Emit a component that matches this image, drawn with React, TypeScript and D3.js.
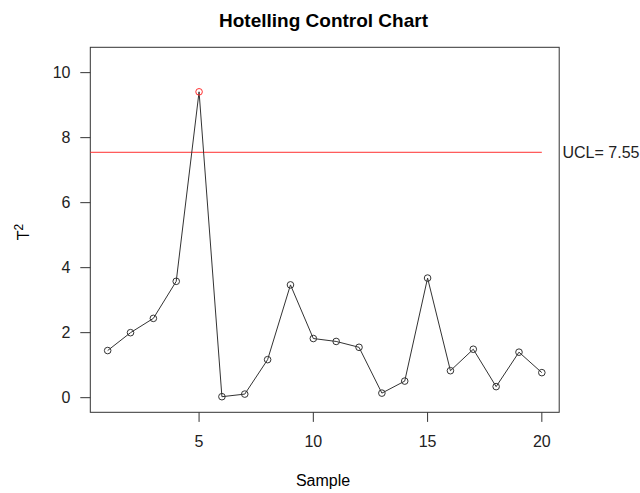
import React from "react";
import * as d3 from "d3";

// Hotelling T² statistic per sample
const samples: number[] = [1, 2, 3, 4, 5, 6, 7, 8, 9, 10, 11, 12, 13, 14, 15, 16, 17, 18, 19, 20];
const t2Values: number[] = [1.45, 2.0, 2.44, 3.58, 9.41, 0.03, 0.11, 1.17, 3.47, 1.82, 1.73, 1.55, 0.14, 0.51, 3.68, 0.83, 1.49, 0.34, 1.4, 0.77];
const ucl = 7.55;
const xTicks: number[] = [5, 10, 15, 20];
const yTicks: number[] = [0, 2, 4, 6, 8, 10];

const W = 640;
const H = 493;
const plot = { left: 90.3, right: 559.2, top: 47.3, bottom: 412.3 };
const FONT = "'Liberation Sans', Arial, sans-serif";

export default function App() {
  const x = d3.scaleLinear().domain([0.24, 20.76]).range([plot.left, plot.right]);
  const y = d3.scaleLinear().domain([-0.45, 10.78]).range([plot.bottom, plot.top]);

  const pts = samples.map((s, i) => ({ s, v: t2Values[i] }));
  const line = d3
    .line<{ s: number; v: number }>()
    .x((d) => x(d.s))
    .y((d) => y(d.v));

  return (
    <svg
      width={W}
      height={H}
      style={{ position: "absolute", left: 0, top: 0, background: "#fff" }}
      fontFamily={FONT}
    >
      <rect width={W} height={H} fill="#fff" />
      {/* title */}
      <text x={323.5} y={27} textAnchor="middle" fontSize={19} fontWeight="bold" fill="#000">
        Hotelling Control Chart
      </text>

      {/* plot frame */}
      <rect
        x={plot.left}
        y={plot.top}
        width={plot.right - plot.left}
        height={plot.bottom - plot.top}
        fill="none"
        stroke="#333"
        strokeWidth={1}
      />

      {/* x axis */}
      {xTicks.map((t) => (
        <g key={`x${t}`}>
          <line x1={x(t)} x2={x(t)} y1={plot.bottom} y2={plot.bottom + 9.6} stroke="#333" />
          <text x={x(t)} y={446.5} textAnchor="middle" fontSize={16} fill="#222">
            {t}
          </text>
        </g>
      ))}

      {/* y axis */}
      {yTicks.map((t) => (
        <g key={`y${t}`}>
          <line x1={plot.left - 10} x2={plot.left} y1={y(t)} y2={y(t)} stroke="#333" />
          <text x={70.5} y={y(t)} dy="0.36em" textAnchor="end" fontSize={16} fill="#222">
            {t}
          </text>
        </g>
      ))}

      {/* axis titles */}
      <text x={323} y={486} textAnchor="middle" fontSize={16} fill="#000">
        Sample
      </text>
      <text transform="translate(29,232) rotate(-90)" textAnchor="middle" fontSize={16} fill="#000">
        T<tspan dy={-6} fontSize={12}>2</tspan>
      </text>

      {/* control limit */}
      <line x1={plot.left} x2={x(20)} y1={y(ucl)} y2={y(ucl)} stroke="#ff3030" strokeWidth={1} />
      <text x={562.5} y={y(ucl)} dy="0.36em" fontSize={16} fill="#222">
        UCL= {ucl}
      </text>

      {/* series */}
      <path d={line(pts) ?? ""} fill="none" stroke="#333" strokeWidth={1} />
      {pts.map((d) => (
        <circle
          key={d.s}
          cx={x(d.s)}
          cy={y(d.v)}
          r={3.3}
          fill="none"
          stroke={d.v > ucl ? "#ff3030" : "#333"}
          strokeWidth={1}
        />
      ))}
    </svg>
  );
}
